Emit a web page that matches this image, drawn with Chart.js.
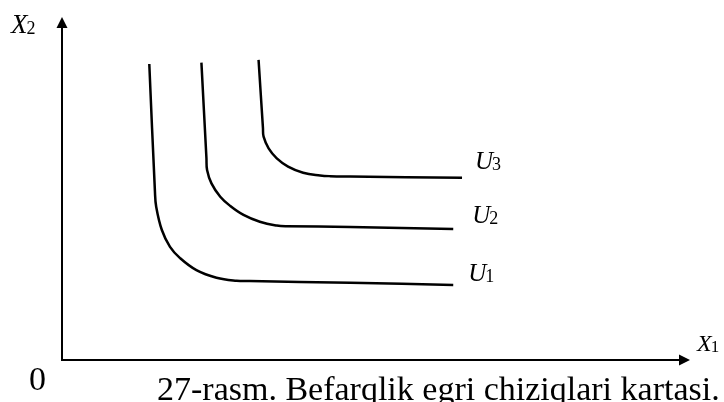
<!DOCTYPE html>
<html>
<head>
<meta charset="utf-8">
<script src="https://cdn.jsdelivr.net/npm/chart.js@4/dist/chart.umd.min.js"></script>
<style>
  html, body { margin: 0; padding: 0; background: #ffffff; }
  #wrap { width: 724px; height: 402px; }
</style>
</head>
<body>
<div id="wrap"><canvas id="c" width="724" height="402"></canvas></div>
<script>
// Indifference curves U1, U2, U3 in (X1, X2) units, axes run 0..100
const u1X = [13.9, 14.8, 15.0, 15.9, 17.2, 18.8, 21.4, 24.6, 27.8, 29.9, 45.9, 62.3];
const u1Y = [86.3, 49.1, 44.7, 37.9, 33.0, 29.7, 26.2, 24.0, 23.1, 23.0, 22.5, 21.9];

const u2X = [22.2, 23.0, 23.1, 23.8, 25.2, 26.8, 28.9, 31.5, 34.2, 35.8, 45.9, 62.3];
const u2Y = [86.7, 58.8, 55.4, 51.5, 47.6, 44.9, 42.3, 40.3, 39.2, 39.0, 38.8, 38.2];

const u3X = [31.3, 32.0, 32.1, 32.9, 34.2, 36.0, 38.4, 41.1, 42.7, 45.9, 63.7];
const u3Y = [87.5, 67.6, 65.1, 61.7, 58.8, 56.4, 54.6, 53.8, 53.6, 53.5, 53.1];

const curveNames = ['U', 'U', 'U'];
const curveSubs = ['1', '2', '3'];
const axisNames = ['X', 'X'];
const axisSubs = ['1', '2'];
const originLabel = '0';
const caption = '27-rasm. Befarqlik egri chiziqlari kartasi.';

const toPoints = (xs, ys) => xs.map((x, i) => ({ x: x, y: ys[i] }));
const curves = [toPoints(u1X, u1Y), toPoints(u2X, u2Y), toPoints(u3X, u3Y)];

// pixel offsets of each curve label from the curve's right end
const labelOffsets = [[15, -4], [19, -6], [13, -9]];

const SERIF = '"Liberation Serif", "Times New Roman", serif';

function drawArrowHead(ctx, tipX, tipY, dir) {
  const len = 11, half = 5.5;
  ctx.beginPath();
  if (dir === 'up') {
    ctx.moveTo(tipX, tipY);
    ctx.lineTo(tipX - half, tipY + len);
    ctx.lineTo(tipX + half, tipY + len);
  } else {
    ctx.moveTo(tipX, tipY);
    ctx.lineTo(tipX - len, tipY - half);
    ctx.lineTo(tipX - len, tipY + half);
  }
  ctx.closePath();
  ctx.fill();
}

function drawSubscripted(ctx, x, y, main, sub, mainSize, subSize, subDrop) {
  ctx.font = 'italic ' + mainSize + 'px ' + SERIF;
  ctx.fillText(main, x, y);
  const w = ctx.measureText(main).width;
  ctx.font = subSize + 'px ' + SERIF;
  ctx.fillText(sub, x + w - 1, y + subDrop);
}

const axesAndText = {
  id: 'axesAndText',
  afterDraw(chart) {
    const ctx = chart.ctx;
    const sx = chart.scales.x, sy = chart.scales.y;
    const ox = sx.getPixelForValue(sx.min);
    const oy = sy.getPixelForValue(sy.min);
    const xEnd = sx.getPixelForValue(sx.max);
    const yTop = sy.getPixelForValue(sy.max);

    ctx.save();
    ctx.strokeStyle = '#000';
    ctx.fillStyle = '#000';
    ctx.lineWidth = 2;
    ctx.lineCap = 'butt';
    // vertical axis
    ctx.beginPath();
    ctx.moveTo(ox, oy + 1);
    ctx.lineTo(ox, yTop + 8);
    ctx.stroke();
    drawArrowHead(ctx, ox, yTop, 'up');
    // horizontal axis
    ctx.beginPath();
    ctx.moveTo(ox - 1, oy);
    ctx.lineTo(xEnd - 8, oy);
    ctx.stroke();
    drawArrowHead(ctx, xEnd, oy, 'right');

    ctx.textBaseline = 'alphabetic';
    ctx.textAlign = 'left';

    // axis names
    drawSubscripted(ctx, ox - 51, yTop + 16, axisNames[1], axisSubs[1], 27, 18, 1);
    drawSubscripted(ctx, xEnd + 7, oy - 9, axisNames[0], axisSubs[0], 24, 17, 1);

    // origin
    ctx.font = '34px ' + SERIF;
    ctx.fillText(originLabel, ox - 33, oy + 30);

    // curve labels at the right end of each curve
    curves.forEach((pts, i) => {
      const last = pts[pts.length - 1];
      const px = sx.getPixelForValue(last.x) + labelOffsets[i][0];
      const py = sy.getPixelForValue(last.y) + labelOffsets[i][1];
      drawSubscripted(ctx, px, py, curveNames[i], curveSubs[i], 25, 18, 1);
    });

    // caption
    ctx.font = '34px ' + SERIF;
    ctx.fillText(caption, 157, 400);
    ctx.restore();
  }
};

new Chart(document.getElementById('c'), {
  type: 'scatter',
  data: {
    datasets: curves.map((pts, i) => ({
      label: curveNames[i] + curveSubs[i],
      data: pts,
      showLine: true,
      borderColor: '#000',
      borderWidth: 2.5,
      pointRadius: 0,
      pointHoverRadius: 0,
      tension: 0.4,
      fill: false
    }))
  },
  options: {
    responsive: false,
    devicePixelRatio: 1,
    animation: false,
    events: [],
    layout: { padding: { left: 62, top: 17, right: 34, bottom: 42 } },
    plugins: { legend: { display: false }, tooltip: { enabled: false } },
    scales: {
      x: { type: 'linear', min: 0, max: 100, display: false },
      y: { type: 'linear', min: 0, max: 100, display: false }
    }
  },
  plugins: [axesAndText]
});
</script>
</body>
</html>
